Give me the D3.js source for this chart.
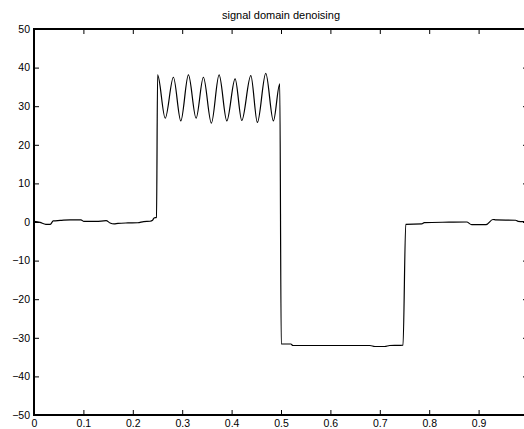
<!DOCTYPE html>
<html lang="en">
<head>
    <meta charset="UTF-8">
    <title>signal domain denoising</title>
    <script src="https://d3js.org/d3.v7.min.js"></script>
    <style>
        body {
            margin: 0;
            background-color: #ffffff;
            font-family: "Liberation Sans", Arial, sans-serif;
        }
        svg { display: block; }
        .tick text {
            font-size: 10.5px;
            fill: #000;
        }
        .tick line {
            stroke: #000;
        }
        .title {
            font-size: 11px;
            fill: #000;
        }
    </style>
</head>
<body>
    <svg width="524" height="429"></svg>
    <script>
        // Data
        const chartTitle = "signal domain denoising";
        const xTicks = [0, 0.1, 0.2, 0.3, 0.4, 0.5, 0.6, 0.7, 0.8, 0.9];
        const yTicks = [-50, -40, -30, -20, -10, 0, 10, 20, 30, 40, 50];

        const signalX = [
            0.000, 0.012, 0.024, 0.033, 0.039, 0.053, 0.073, 0.095, 0.101, 0.126,
            0.146, 0.154, 0.162, 0.170, 0.190, 0.210, 0.222, 0.235, 0.240, 0.243,
            0.248,
            0.2502, 0.2656, 0.2822, 0.2972, 0.3126, 0.3281, 0.3429, 0.3591, 0.3747,
            0.3903, 0.4071, 0.4206, 0.4389, 0.4522, 0.4692, 0.4846, 0.4975,
            0.5005, 0.520, 0.524, 0.560, 0.600, 0.680, 0.690, 0.710, 0.720, 0.740,
            0.747,
            0.7525, 0.785, 0.790, 0.840, 0.876, 0.886, 0.915, 0.929, 0.935, 0.975,
            0.980, 0.990, 0.999
        ];
        const signalY = [
            0.15, -0.1, -0.6, -0.6, 0.3, 0.4, 0.55, 0.55, 0.15, 0.15,
            0.35, -0.25, -0.5, -0.35, -0.25, -0.2, 0.1, 0.2, 0.45, 1.05,
            1.2,
            38.1, 26.9, 37.5, 26.2, 38.1, 26.9, 37.5, 25.6, 38.1,
            26.2, 37.1, 26.3, 37.9, 25.8, 38.5, 26.2, 35.8,
            -31.6, -31.6, -32.0, -32.0, -32.0, -32.0, -32.25, -32.25, -32.0, -31.95,
            -31.9,
            -0.6, -0.5, -0.15, -0.05, 0.0, -0.7, -0.7, 0.65, 0.55, 0.45,
            0.15, 0.1, 0.1
        ];

        const plotLeft = 34, plotRight = 528, plotTop = 29, plotBottom = 415;

        const svg = d3.select("svg");

        svg.append("rect")
           .attr("width", 524)
           .attr("height", 429)
           .attr("fill", "#ffffff");

        const x = d3.scaleLinear().domain([0, 1]).range([plotLeft, plotRight]);
        const y = d3.scaleLinear().domain([-50, 50]).range([plotBottom, plotTop]);

        // Ticks point inward on all four sides, like a matlab box
        svg.append("g")
           .attr("transform", `translate(0,${plotBottom})`)
           .call(d3.axisBottom(x).tickValues(xTicks).tickSize(-5).tickSizeOuter(0).tickPadding(4.5)
                   .tickFormat(d3.format("")))
           .call(g => g.select(".domain").remove());

        svg.append("g")
           .attr("transform", `translate(0,${plotTop})`)
           .call(d3.axisTop(x).tickValues(xTicks).tickSize(-5).tickSizeOuter(0).tickFormat(""))
           .call(g => g.select(".domain").remove());

        svg.append("g")
           .attr("transform", `translate(${plotLeft},0)`)
           .call(d3.axisLeft(y).tickValues(yTicks).tickSize(-5).tickSizeOuter(0).tickPadding(4)
                   .tickFormat(d => d < 0 ? "\u2212" + Math.abs(d) : d))
           .call(g => g.select(".domain").remove());

        svg.append("g")
           .attr("transform", `translate(${plotRight},0)`)
           .call(d3.axisRight(y).tickValues(yTicks).tickSize(-5).tickSizeOuter(0).tickFormat(""))
           .call(g => g.select(".domain").remove());

        svg.selectAll("g").attr("font-family", null).attr("font-size", null);

        // Axes box
        svg.append("rect")
           .attr("x", plotLeft)
           .attr("y", plotTop)
           .attr("width", plotRight - plotLeft)
           .attr("height", plotBottom - plotTop)
           .attr("fill", "none")
           .attr("stroke", "#000")
           .attr("stroke-width", 2);

        // Signal
        const points = signalX.map((v, i) => [v, signalY[i]]);
        const line = d3.line()
                       .x(d => x(d[0]))
                       .y(d => y(d[1]))
                       .curve(d3.curveMonotoneX);

        svg.append("path")
           .datum(points)
           .attr("d", line)
           .attr("fill", "none")
           .attr("stroke", "#000")
           .attr("stroke-width", 1.2);

        svg.append("text")
           .attr("class", "title")
           .attr("x", (plotLeft + plotRight) / 2)
           .attr("y", 18.5)
           .attr("text-anchor", "middle")
           .text(chartTitle);
    </script>
</body>
</html>
